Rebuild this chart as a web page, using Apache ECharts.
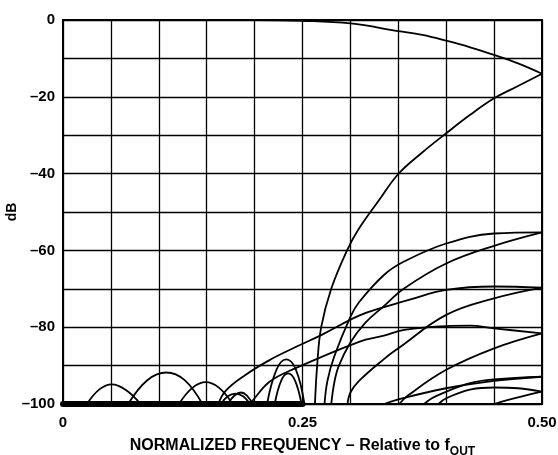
<!DOCTYPE html>
<html>
<head>
<meta charset="utf-8">
<script src="https://cdn.jsdelivr.net/npm/echarts@6/dist/echarts.min.js"></script>
<style>
html,body{margin:0;padding:0;background:#fff;}
#c{width:558px;height:455px;}
</style>
</head>
<body>
<div id="c"></div>
<script>
// ---- data (normalized frequency, dB) ----
const xTickValues = [0, 0.25, 0.5];
const xTickLabels = ['0', '0.25', '0.50'];
const yTickValues = [0, -20, -40, -60, -80, -100];
const yTickLabels = ['0', '–20', '–40', '–60', '–80', '–100'];

const noiseFloor = [[0, -100], [0.25, -100]];
const passband = [[0, 0], [0.2, 0], [0.25, -0.2], [0.3, -0.9], [0.35, -2.9], [0.375, -3.9], [0.4, -5.4], [0.425, -7.1], [0.45, -9.1], [0.475, -11.3], [0.5, -14]];
const image1 = [[0.263, -100], [0.2653, -90], [0.2695, -80], [0.28, -70], [0.2965, -60], [0.308, -54.7], [0.33, -46.9], [0.35, -40.1], [0.375, -34.5], [0.4, -29.5], [0.425, -24.7], [0.45, -20.4], [0.475, -17.2], [0.5, -14]];
const image2a = [[0.273, -100], [0.276, -94], [0.283, -87.7], [0.3, -77.3], [0.309, -73.5], [0.335, -66.4], [0.356, -62.9], [0.4, -58.2], [0.45, -55.6], [0.5, -55.3]];
const image2b = [[0.28, -100], [0.2835, -94], [0.288, -90], [0.3, -84], [0.315, -79], [0.335, -74.5], [0.356, -69.9], [0.4, -63.4], [0.45, -58.8], [0.5, -55.3]];
const image3a = [[0.162, -100], [0.17, -96.5], [0.19, -92.5], [0.216, -88.5], [0.2417, -85.3], [0.27, -82], [0.309, -77], [0.335, -74.8], [0.361, -72.9], [0.4, -70.3], [0.45, -69.4], [0.5, -69.7]];
const image3b = [[0.297, -100], [0.3, -97], [0.309, -94], [0.335, -88.3], [0.35, -85.5], [0.4, -76.8], [0.45, -72.5], [0.5, -69.7]];
const image4a = [[0.195, -100], [0.2, -98.5], [0.2156, -94.2], [0.2417, -90.8], [0.309, -83.8], [0.335, -82.2], [0.356, -80.7], [0.4, -79.7], [0.425, -79.6], [0.45, -80.3], [0.5, -81.6]];
const image4b = [[0.351, -100], [0.36, -97.8], [0.4, -91.1], [0.45, -85.5], [0.5, -81.6]];
const image5a = [[0.335, -100], [0.35, -98.8], [0.4, -95.9], [0.45, -94], [0.5, -92.9]];
const image5b = [[0.377, -100], [0.385, -98.5], [0.4, -96.8], [0.424, -94.6], [0.45, -93.6], [0.5, -92.9]];
const image6a = [[0.392, -100], [0.4, -98.5], [0.426, -96.2], [0.45, -95.7], [0.475, -95.9], [0.5, -96.8]];
const image6b = [[0.45, -100], [0.475, -98.3], [0.5, -96.8]];
const lobeA = [[0.025, -100], [0.038, -96.2], [0.051, -94.9], [0.066, -96.4], [0.081, -100]];
const lobeB = [[0.068, -100], [0.088, -93.8], [0.108, -91.8], [0.127, -93.8], [0.1455, -100]];
const lobeC = [[0.121, -100], [0.135, -95.8], [0.149, -94.3], [0.163, -95.8], [0.177, -100]];
const lobeD = [[0.165, -100], [0.172, -98], [0.18, -97.3], [0.188, -98], [0.195, -100]];
const lobeE = [[0.172, -100], [0.179, -97.8], [0.186, -97], [0.192, -97.8], [0.198, -100]];
const lobeF = [[0.213, -100], [0.223, -91], [0.233, -88.4], [0.243, -91], [0.252, -100]];
const lobeG = [[0.221, -100], [0.228, -93.8], [0.235, -92], [0.242, -93.8], [0.249, -100]];

const curves = [passband, image1, image2a, image2b, image3a, image3b, image4a, image4b,
  image5a, image5b, image6a, image6b, lobeA, lobeB, lobeC, lobeD, lobeE, lobeF, lobeG];

const FONT = "'Liberation Sans', Arial, Helvetica, sans-serif";

function lookup(vals, labels, v) {
  for (let i = 0; i < vals.length; i++) if (Math.abs(vals[i] - v) < 1e-6) return labels[i];
  return '';
}

const series = curves.map(d => ({
  type: 'line', data: d, showSymbol: false, smooth: 0.4,
  lineStyle: { color: '#000', width: 1.8 }, silent: true, z: 3
}));
series.push({
  type: 'line', data: noiseFloor, showSymbol: false, clip: false,
  lineStyle: { color: '#000', width: 6, cap: 'round' }, silent: true, z: 4
});

const chart = echarts.init(document.getElementById('c'), null, { renderer: 'canvas' });
chart.setOption({
  animation: false,
  backgroundColor: '#fff',
  grid: { left: 63, right: 16, top: 20, bottom: 51, outerBoundsMode: 'none', containLabel: false,
    show: true, borderColor: '#000', borderWidth: 2, backgroundColor: 'transparent' },
  xAxis: {
    type: 'value', min: 0, max: 0.5, interval: 0.05,
    name: '{a|NORMALIZED FREQUENCY – Relative to f}{s|OUT}',
    nameLocation: 'middle', nameGap: 34, nameMoveOverlap: false,
    nameTextStyle: {
      rich: {
        a: { fontFamily: FONT, fontWeight: 'bold', fontSize: 16, color: '#000', verticalAlign: 'bottom', padding: [0, 0, 4, 0] },
        s: { fontFamily: FONT, fontWeight: 'bold', fontSize: 12, color: '#000', verticalAlign: 'bottom' }
      }
    },
    axisLine: { show: true, lineStyle: { color: '#000', width: 2 } },
    axisTick: { show: false },
    splitLine: { show: true, lineStyle: { color: '#000', width: 1.3 } },
    axisLabel: {
      show: true, showMinLabel: true, showMaxLabel: true, margin: 11,
      fontFamily: FONT, fontWeight: 'bold', fontSize: 15, color: '#000',
      formatter: v => lookup(xTickValues, xTickLabels, v)
    }
  },
  yAxis: {
    type: 'value', min: -100, max: 0, interval: 10,
    name: 'dB', nameLocation: 'middle', nameGap: 44, nameRotate: 90, nameMoveOverlap: false,
    nameTextStyle: { fontFamily: FONT, fontWeight: 'bold', fontSize: 14, color: '#000' },
    axisLine: { show: true, lineStyle: { color: '#000', width: 2 } },
    axisTick: { show: false },
    splitLine: { show: true, lineStyle: { color: '#000', width: 1.3 } },
    axisLabel: {
      show: true, showMinLabel: true, showMaxLabel: true, margin: 8,
      fontFamily: FONT, fontWeight: 'bold', fontSize: 15, color: '#000',
      formatter: v => lookup(yTickValues, yTickLabels, v)
    }
  },
  series: series
});
</script>
</body>
</html>
